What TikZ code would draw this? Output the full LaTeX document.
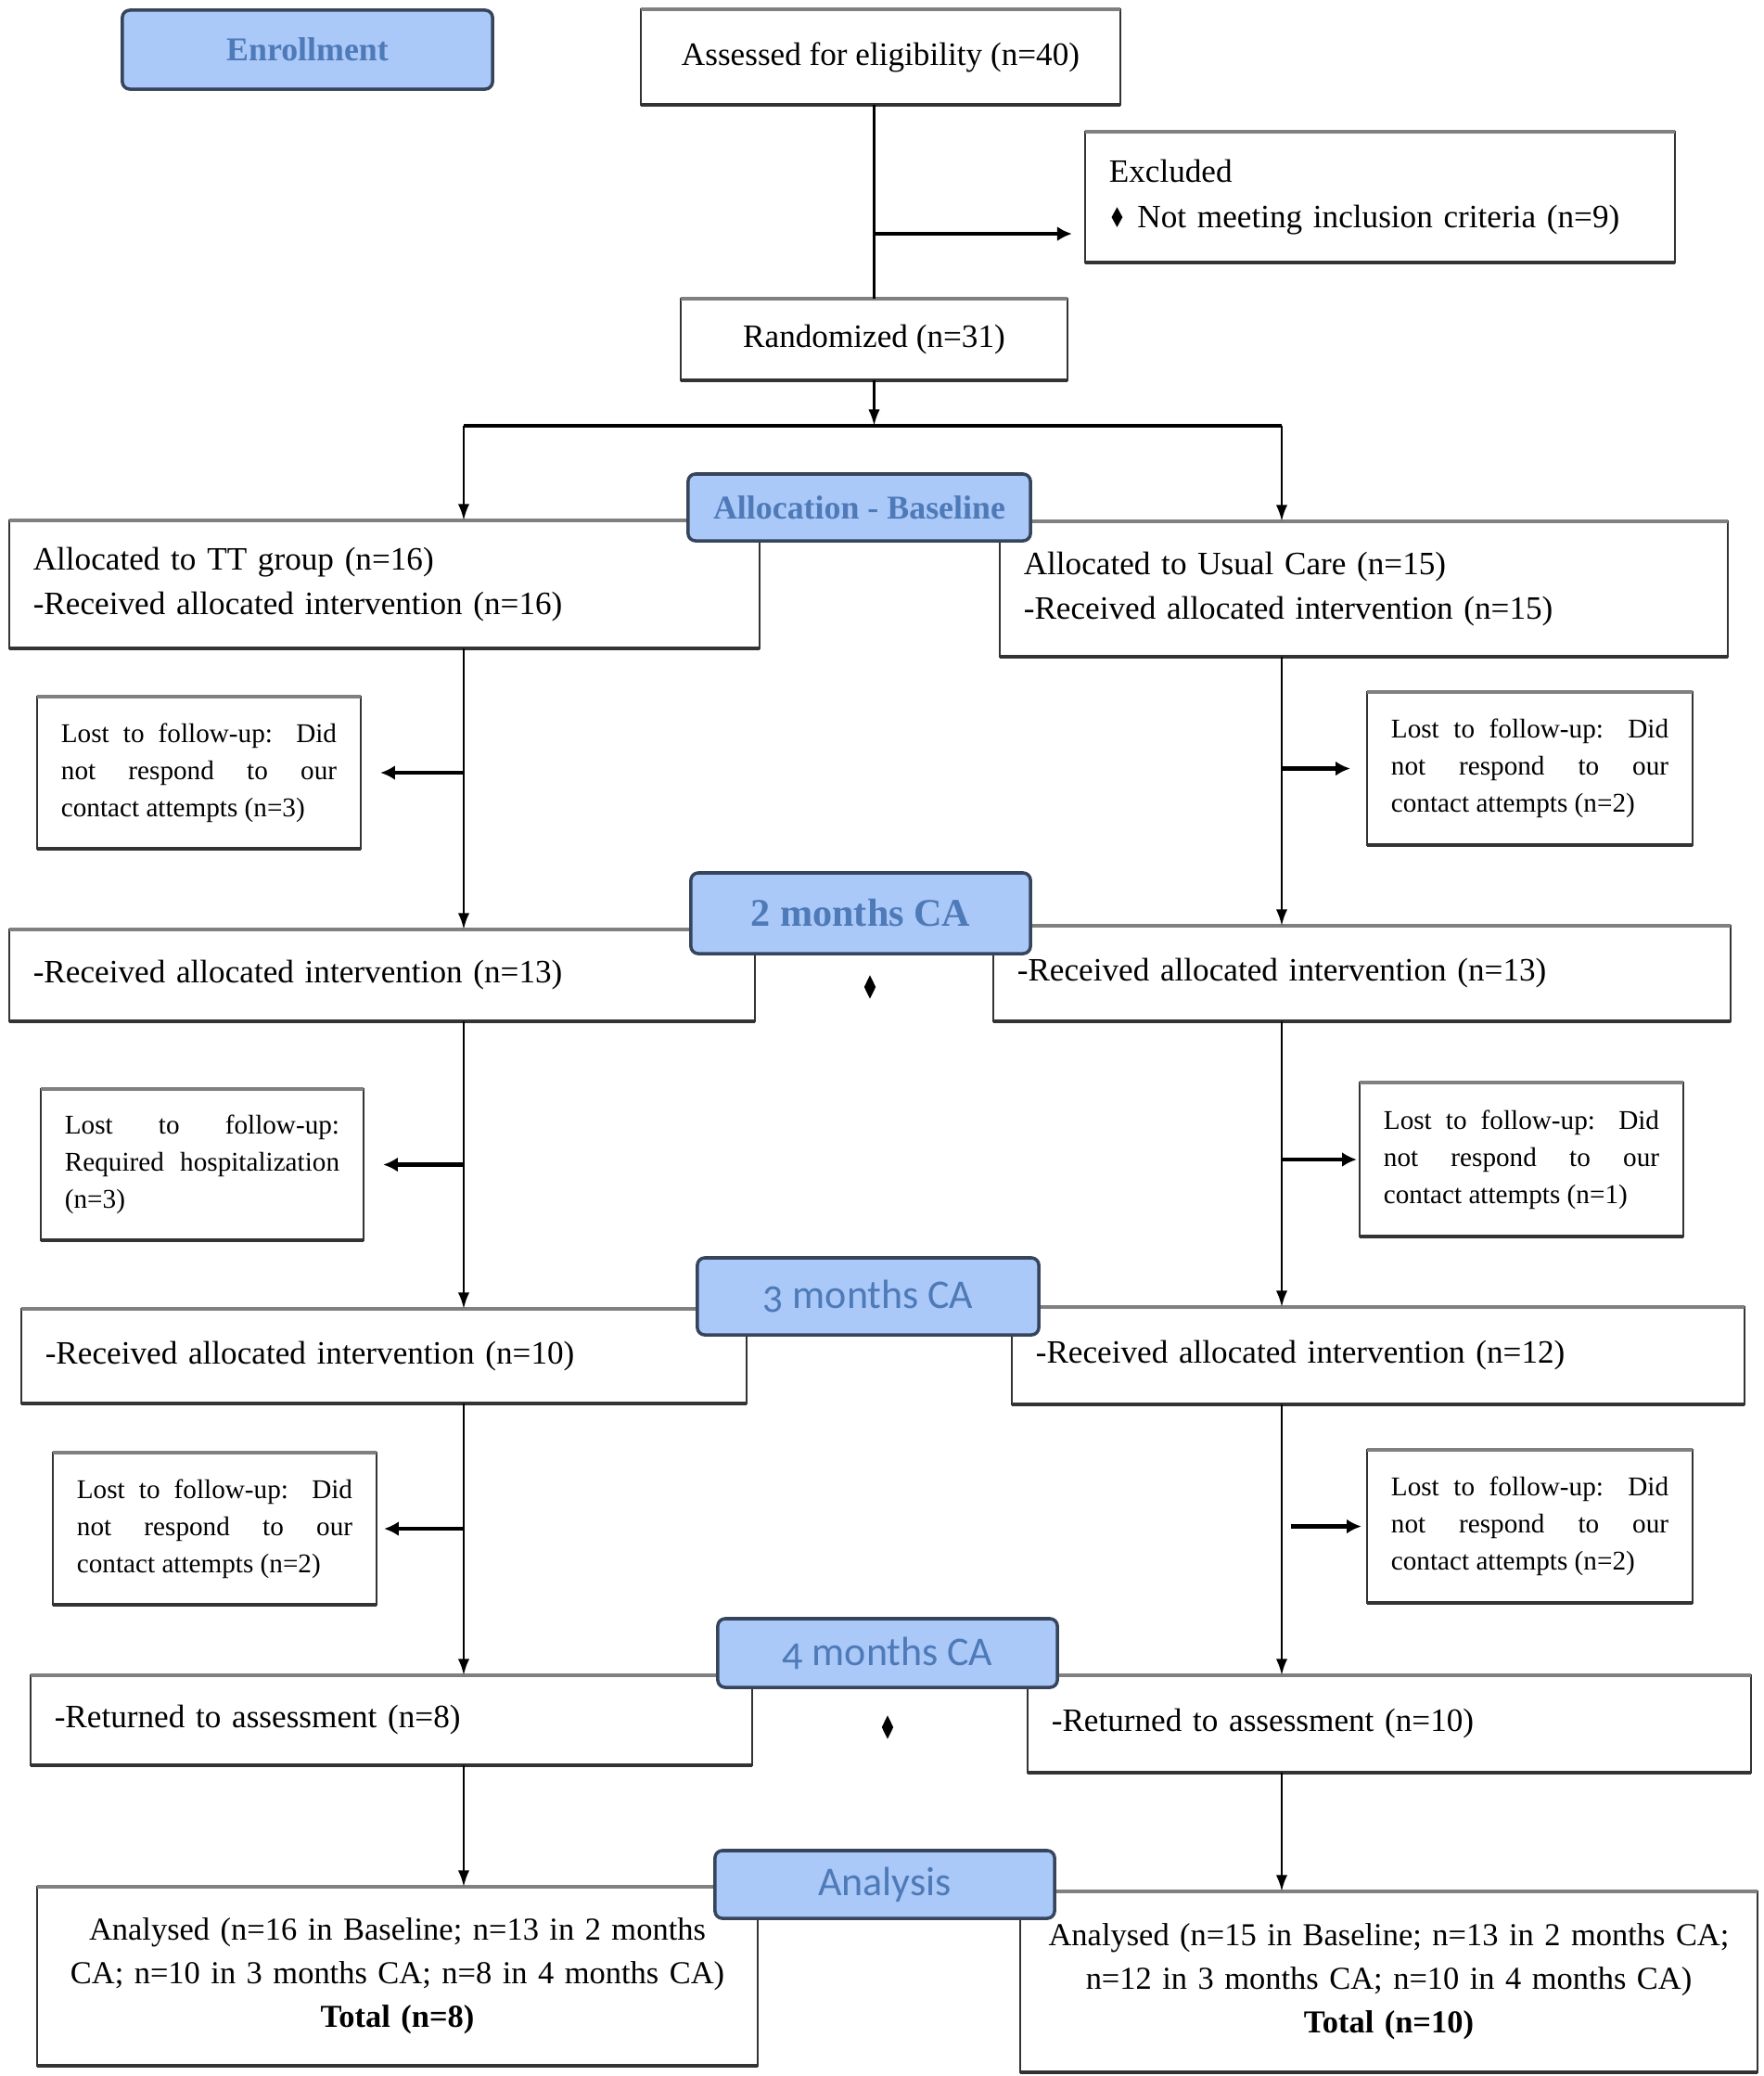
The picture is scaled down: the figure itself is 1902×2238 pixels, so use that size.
\documentclass[tikz,border=0pt]{standalone}
\usepackage{fontspec}
\usepackage{graphicx}
\setmainfont{Liberation Serif}
\newfontfamily\labsans{Carlito}[Numbers=OldStyle]
\newfontfamily\symf{DejaVu Sans}
\usetikzlibrary{arrows.meta,shapes.geometric}
\definecolor{labfill}{HTML}{AAC8F8}
\definecolor{labtext}{HTML}{4E7AB8}
\definecolor{labdraw}{HTML}{36445C}
\newcommand\mainfs{\fontsize{10}{13.9}\selectfont}
\newcommand\anafs{\fontsize{9.8}{13.4}\selectfont}
\newcommand\lostfs{\fontsize{8.3}{11.34}\selectfont\tolerance=10000\hbadness=10000}
\newcommand\dmd{{\symf\scalebox{0.6}[0.85]{♦}}}
\begin{document}
\begin{tikzpicture}[x=0.01cm,y=-0.01cm,
  box/.style={draw=black!80, line width=0.6pt, fill=white, inner xsep=0.26cm,
    inner ysep=0pt, outer sep=0pt, font=\mainfs, align=left},
  cbox/.style={box, align=center},
  anabox/.style={box, align=center, font=\anafs, inner xsep=0.1cm},
  lostbox/.style={box, align=justify, font=\lostfs},
  lab/.style={draw=labdraw, line width=1pt, fill=labfill, text=labtext,
    rounded corners=0.08cm, inner sep=0pt, outer sep=0pt},
  labserif/.style={lab, font=\bfseries\fontsize{10.2}{12}\selectfont},
  labbig/.style={lab, font=\bfseries\fontsize{12}{14}\selectfont},
  labsansst/.style={lab, font=\labsans\fontsize{12.5}{14}\selectfont},
  topedge/.style={draw=black!50, line width=1.2pt},
  botedge/.style={draw=black!80, line width=1.2pt},
  vline/.style={draw=black, line width=0.7pt},
  arr/.style={vline, -{Latex[length=5pt,width=3.5pt]}},
  harr/.style={draw=black, line width=1.2pt, -{Latex[length=4.5pt,width=4.5pt]}},
  dia/.style={diamond, fill=black, inner sep=0pt, minimum width=0.13cm, minimum height=0.26cm}
]
\useasboundingbox (0,0) rectangle (1902,2238);

% ---- main boxes
\node[cbox, minimum width=5.17cm, minimum height=1.03cm] (assessed) at (949.5,61.5) {Assessed for eligibility (n=40)};
\node[box, text width=5.84cm, minimum height=1.41cm] (excl) at (1488,212.5) {Excluded\\\dmd\ Not meeting inclusion criteria (n=9)};
\node[cbox, minimum width=4.17cm, minimum height=0.88cm] (rand) at (942.5,366) {Randomized (n=31)};

\node[box, text width=7.57cm, minimum height=1.38cm] (tt) at (414.5,630) {Allocated to TT group (n=16)\\-Received allocated intervention (n=16)};
\node[box, text width=7.33cm, minimum height=1.46cm] (uc) at (1470.5,635) {Allocated to Usual Care (n=15)\\-Received allocated intervention (n=15)};

\node[lostbox, text width=2.97cm, minimum height=1.64cm] (lost1L) at (214.5,833) {Lost to follow-up: Did\linebreak not respond to our\linebreak contact attempts (n=3)};
\node[lostbox, text width=2.99cm, minimum height=1.65cm] (lost1R) at (1649.5,828.5) {Lost to follow-up: Did\linebreak not respond to our\linebreak contact attempts (n=2)};

\node[box, text width=7.52cm, minimum height=0.99cm] (l2) at (412,1051.5) {-Received allocated intervention (n=13)};
\node[box, text width=7.43cm, minimum height=1.03cm] (r2) at (1468.5,1049.5) {-Received allocated intervention (n=13)};

\node[lostbox, text width=2.96cm, minimum height=1.63cm] (lost2L) at (218,1255.5) {Lost to follow-up:\linebreak Required hospitalization\linebreak (n=3)};
\node[lostbox, text width=2.97cm, minimum height=1.66cm] (lost2R) at (1640.5,1250) {Lost to follow-up: Did\linebreak not respond to our\linebreak contact attempts (n=1)};

\node[box, text width=7.30cm, minimum height=1.02cm] (l3) at (414,1462) {-Received allocated intervention (n=10)};
\node[box, text width=7.38cm, minimum height=1.05cm] (r3) at (1486,1461.5) {-Received allocated intervention (n=12)};

\node[lostbox, text width=2.97cm, minimum height=1.64cm] (lost3L) at (231.5,1648) {Lost to follow-up: Did\linebreak not respond to our\linebreak contact attempts (n=2)};
\node[lostbox, text width=2.99cm, minimum height=1.65cm] (lost3R) at (1649.5,1645.5) {Lost to follow-up: Did\linebreak not respond to our\linebreak contact attempts (n=2)};

\node[box, text width=7.26cm, minimum height=0.97cm] (l4) at (422,1854.5) {-Returned to assessment (n=8)};
\node[box, text width=7.28cm, minimum height=1.05cm] (r4) at (1498,1858.5) {-Returned to assessment (n=10)};

\node[anabox, text width=7.57cm, minimum height=1.93cm] (l5) at (428.5,2130.5) {Analysed (n=16 in Baseline; n=13 in 2 months\\CA; n=10 in 3 months CA; n=8 in 4 months CA)\\\textbf{Total (n=8)}};
\node[anabox, text width=7.75cm, minimum height=1.95cm] (r5) at (1497.5,2136.5) {Analysed (n=15 in Baseline; n=13 in 2 months CA;\\n=12 in 3 months CA; n=10 in 4 months CA)\\\textbf{Total (n=10)}};

\foreach \n in {assessed,excl,rand,tt,uc,lost1L,lost1R,l2,r2,lost2L,lost2R,l3,r3,lost3L,lost3R,l4,r4,l5,r5}{
  \draw[topedge] (\n.north west) -- (\n.north east);
  \draw[botedge] (\n.south west) -- (\n.south east);
}

% ---- diamonds
\node[dia] (dia1) at (938,1064) {};
\node[dia] (dia2) at (957,1862) {};

% ---- connectors
\coordinate (lx) at (500,0);
\coordinate (rx) at (1382,0);
\coordinate (split) at (944,459);
\coordinate (exA) at ([yshift=-0.395cm]excl.west);

\draw[vline] (assessed.south -| rand.north) -- (rand.north);
\draw[harr, shorten >=0.14cm] (exA -| rand.north) -- (exA);
\draw[arr] (rand.south) -- (rand.south |- split);
\draw[vline, line width=1.2pt] (split -| lx) -- (split -| rx);
\draw[arr] (split -| lx) -- (tt.north -| lx);
\draw[arr] (split -| rx) -- (uc.north -| rx);

\draw[arr] (tt.south -| lx) -- (l2.north -| lx);
\draw[harr, shorten >=0.21cm] (lost1L.east -| lx) -- (lost1L.east);
\draw[arr] (uc.south -| rx) -- (r2.north -| rx);
\draw[harr, shorten >=0.18cm] (lost1R.west -| rx) -- (lost1R.west);

\draw[arr] (l2.south -| lx) -- (l3.north -| lx);
\draw[harr, shorten >=0.21cm] (lost2L.east -| lx) -- (lost2L.east);
\draw[arr] (r2.south -| rx) -- (r3.north -| rx);
\draw[harr, shorten >=0.03cm] (lost2R.west -| rx) -- (lost2R.west);

\draw[arr] (l3.south -| lx) -- (l4.north -| lx);
\draw[harr, shorten >=0.08cm] (lost3L.east -| lx) -- (lost3L.east);
\draw[arr] (r3.south -| rx) -- (r4.north -| rx);
\draw[harr, shorten <=0.1cm, shorten >=0.06cm] (lost3R.west -| rx) -- (lost3R.west);

\draw[arr] (l4.south -| lx) -- (l5.north -| lx);
\draw[arr] (r4.south -| rx) -- (r5.north -| rx);

% ---- stage labels
\node[labserif, minimum width=3.99cm, minimum height=0.85cm] (enr) at (331.5,53.5) {Enrollment};
\node[labserif, minimum width=3.69cm, minimum height=0.72cm] (alloc) at (926.5,547) {Allocation - Baseline};
\node[labbig, minimum width=3.66cm, minimum height=0.87cm] (m2) at (928,984.5) {2 months CA};
\node[labsansst, minimum width=3.68cm, minimum height=0.83cm] (m3) at (936,1397.5) {3 months CA};
\node[labsansst, minimum width=3.66cm, minimum height=0.74cm] (m4) at (957,1782) {4 months CA};
\node[labsansst, minimum width=3.66cm, minimum height=0.73cm] (ana) at (954,2031.5) {Analysis};
\end{tikzpicture}
\end{document}
